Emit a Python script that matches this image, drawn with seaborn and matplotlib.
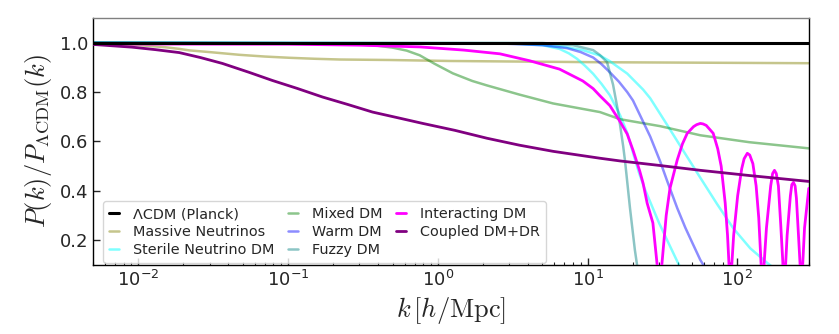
import matplotlib
matplotlib.use("Agg")
import matplotlib.pyplot as plt
import seaborn as sns

# ratio P(k)/P_LCDM(k), per model
k_lcdm = [0.005, 300]
p_lcdm = [1.0, 1.0]

k_massive = [0.005, 0.0102, 0.015, 0.0188, 0.0219, 0.03, 0.0474, 0.07, 0.102, 0.15, 0.221, 0.477, 1.2, 12.1, 300]
p_massive = [0.993, 0.99, 0.982, 0.975, 0.969, 0.962, 0.951, 0.944, 0.939, 0.935, 0.932, 0.930, 0.926, 0.921, 0.917]

k_sterile = [0.005, 3.0, 5.0, 6.5, 7.5, 8.5, 9.6, 10.9, 12.4, 14.1, 16.5, 18.4, 20.1, 22.0, 24.0, 26.2, 30.0, 34.0, 40.0, 45.0]
p_sterile = [1.0, 0.997, 0.99, 0.975, 0.957, 0.935, 0.907, 0.874, 0.833, 0.787, 0.706, 0.635, 0.555, 0.475, 0.41, 0.355, 0.27, 0.20, 0.11, 0.05]

k_sterile2 = [0.005, 3.0, 5.0, 6.85, 9.3, 12.1, 14.1, 18.4, 23.5, 26.2, 34.0, 43.6, 56.6, 73.5, 94.0, 122, 159, 200, 250]
p_sterile2 = [1.0, 0.998, 0.992, 0.984, 0.97, 0.948, 0.925, 0.875, 0.81, 0.775, 0.667, 0.562, 0.453, 0.345, 0.248, 0.167, 0.107, 0.06, 0.03]

k_mixed = [0.005, 0.1, 0.25, 0.37, 0.5, 0.62, 0.758, 0.95, 1.26, 1.7, 2.13, 3.5, 5.88, 12.1, 16.5, 30.5, 56.6, 120, 300]
p_mixed = [1.0, 0.998, 0.995, 0.99, 0.98, 0.968, 0.949, 0.915, 0.876, 0.845, 0.827, 0.79, 0.754, 0.719, 0.69, 0.662, 0.625, 0.597, 0.572]

k_warm = [0.005, 2.6, 5.0, 7.3, 9.0, 10.9, 12.4, 14.1, 16.2, 18.4, 20.1, 23.5, 26.2, 30.5, 34.0, 39.7, 45.0, 50.0, 56.6, 65.0, 80.0]
p_warm = [1.0, 0.997, 0.99, 0.978, 0.962, 0.94, 0.913, 0.88, 0.842, 0.80, 0.766, 0.68, 0.62, 0.52, 0.44, 0.33, 0.25, 0.19, 0.12, 0.06, 0.01]

k_fuzzy = [0.005, 5.0, 8.0, 10.9, 12.1, 13.5, 14.8, 16.0, 17.3, 17.8, 19.2, 20.7, 22.0]
p_fuzzy = [1.0, 0.999, 0.99, 0.97, 0.95, 0.921, 0.83, 0.72, 0.58, 0.52, 0.33, 0.16, 0.05]

k_interact = [0.005, 0.1, 0.3, 0.76, 1.5, 2.6, 4.1, 6.5, 9.3, 10.9, 12.1, 14.1, 16.5, 18.4, 20.1,
              22.3, 23.5, 25.0, 27.3, 30.3, 33.5, 35.5, 39.7, 43.0, 46.3, 51.0, 53.5, 56.6, 59.0, 62.0, 69.0,
              74.0, 78.0, 83.0, 86.0, 89.7, 94.5, 100.5, 107, 111, 116.6, 121, 127, 133.5, 139, 147,
              156.5, 167, 172, 177, 182, 188, 195, 206, 215, 226, 231, 237, 243, 248, 256, 268, 281, 300]
p_interact = [0.995, 0.994, 0.99, 0.983, 0.97, 0.955, 0.927, 0.893, 0.845, 0.814, 0.785, 0.745, 0.68, 0.63, 0.565,
              0.48, 0.43, 0.35, 0.27, 0.0, 0.30, 0.41, 0.525, 0.59, 0.633, 0.66, 0.668, 0.673, 0.671, 0.665, 0.633,
              0.57, 0.50, 0.35, 0.22, 0.0, 0.22, 0.38, 0.49, 0.53, 0.552, 0.545, 0.51, 0.42, 0.29, 0.0,
              0.25, 0.42, 0.47, 0.483, 0.47, 0.42, 0.26, 0.0, 0.22, 0.38, 0.425, 0.434, 0.42, 0.37, 0.22, 0.0, 0.25, 0.41]

k_coupled = [0.005, 0.0091, 0.013, 0.0188, 0.026, 0.0365, 0.055, 0.0787, 0.115, 0.170, 0.25, 0.367, 0.55,
             0.794, 1.3, 2.13, 3.5, 5.88, 12.1, 16.5, 30, 56.6, 120, 300]
p_coupled = [0.993, 0.982, 0.972, 0.960, 0.94, 0.916, 0.88, 0.847, 0.815, 0.780, 0.75, 0.719, 0.695,
             0.673, 0.645, 0.613, 0.585, 0.560, 0.532, 0.521, 0.503, 0.483, 0.462, 0.438]

sns.set_style("ticks")
plt.rcParams["font.family"] = ["DejaVu Sans"]
plt.rcParams["mathtext.fontset"] = "cm"

fig, ax = plt.subplots(figsize=(8.39, 3.34), dpi=100)
fig.subplots_adjust(left=0.111, right=0.964, top=0.946, bottom=0.207)

curves = [
    (k_lcdm, p_lcdm, "black", 1.0, 2.2, "ΛCDM (Planck)", 10),
    (k_massive, p_massive, "olive", 0.45, 1.8, "Massive Neutrinos", 2),
    (k_sterile, p_sterile, "cyan", 0.5, 1.8, "Sterile Neutrino DM", 2),
    (k_sterile2, p_sterile2, "cyan", 0.5, 1.8, "_nolegend_", 2),
    (k_mixed, p_mixed, "green", 0.45, 1.8, "Mixed DM", 2),
    (k_warm, p_warm, "blue", 0.45, 1.8, "Warm DM", 2),
    (k_fuzzy, p_fuzzy, "teal", 0.45, 1.8, "Fuzzy DM", 2),
    (k_interact, p_interact, "magenta", 1.0, 2.0, "Interacting DM", 3),
    (k_coupled, p_coupled, "purple", 1.0, 2.0, "Coupled DM+DR", 3),
]
for k, p, col, a, lw, lab, z in curves:
    sns.lineplot(x=k, y=p, ax=ax, color=col, alpha=a, lw=lw, label=lab,
                 estimator=None, sort=False, zorder=z)

ax.set_xscale("log")
ax.set_xlim(0.005, 300)
ax.set_ylim(0.1, 1.1)
ax.set_yticks([0.2, 0.4, 0.6, 0.8, 1.0])
ax.tick_params(which="both", direction="in", labelsize=13)
ax.tick_params(which="major", length=5, width=1)
ax.tick_params(which="minor", length=2.5, width=0.8)
for sp in ax.spines.values():
    sp.set_visible(True)
    sp.set_color("black")
    sp.set_linewidth(1.0)
ax.spines["top"].set_color("0.5")

ax.set_xlabel(r"$k\,[h/\mathrm{Mpc}]$", fontsize=19)
ax.set_ylabel(r"$P(k)/P_{\Lambda\mathrm{CDM}}(k)$", fontsize=19)

ax.legend(loc="lower left", bbox_to_anchor=(0.014, 0.008), borderaxespad=0, ncol=3,
          fontsize=10.4, handlelength=0.7, handletextpad=1.0, columnspacing=0.9,
          labelspacing=0.28, frameon=True, fancybox=True)

fig.savefig("out.png", dpi=100)
